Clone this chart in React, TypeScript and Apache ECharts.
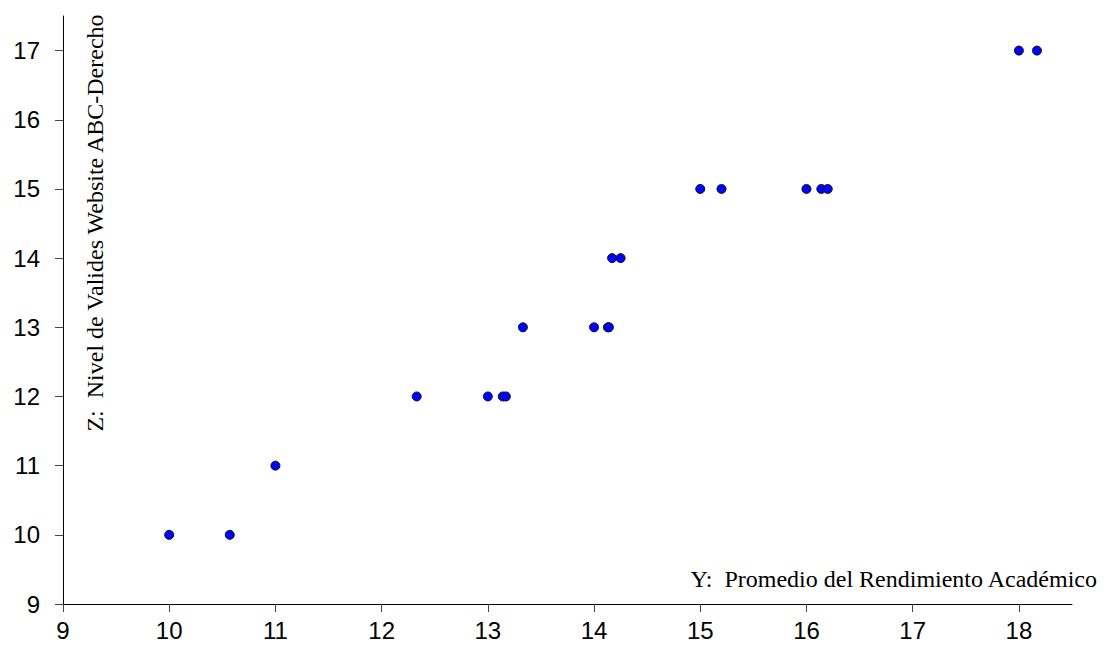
import React, { useEffect, useRef } from "react";
import * as echarts from "echarts";

const xValues = [10, 10.57, 11, 12.33, 13, 13.14, 13.17, 13.33, 14, 14.13, 14.14, 14.17, 14.25, 15, 15.2, 16, 16.14, 16.2, 18, 18.17];
const yValues = [10, 10, 11, 12, 12, 12, 12, 13, 13, 13, 13, 14, 14, 15, 15, 15, 15, 15, 17, 17];
const xTicks = [9, 10, 11, 12, 13, 14, 15, 16, 17, 18];
const yTicks = [9, 10, 11, 12, 13, 14, 15, 16, 17];
const xTitle = "Y:  Promedio del Rendimiento Académico";
const yTitle = "Z:  Nivel de Valides Website ABC-Derecho";

export default function App() {
  const ref = useRef<HTMLDivElement>(null);
  useEffect(() => {
    if (!ref.current) return;
    const chart = echarts.init(ref.current, null, { renderer: "svg" });
    const data = xValues.map((x, i) => [x, yValues[i]]);
    chart.setOption({
      animation: false,
      backgroundColor: "#ffffff",
      grid: { left: 63, top: 16, right: 39, bottom: 44, containLabel: false },
      xAxis: {
        type: "value",
        min: 9,
        max: 18.5,
        interval: 1,
        splitLine: { show: false },
        axisLine: { show: true, onZero: false, lineStyle: { color: "#000", width: 1 } },
        axisTick: { show: true, length: 8, customValues: xTicks, lineStyle: { color: "#444" } },
        axisLabel: {
          customValues: xTicks,
          margin: 14,
          color: "#000",
          fontFamily: "Liberation Sans, Arial, sans-serif",
          fontSize: 24,
        },
      },
      yAxis: {
        type: "value",
        min: 9,
        max: 17.5,
        interval: 1,
        splitLine: { show: false },
        axisLine: { show: true, onZero: false, lineStyle: { color: "#000", width: 1 } },
        axisTick: { show: true, length: 8, customValues: yTicks, lineStyle: { color: "#444" } },
        axisLabel: {
          customValues: yTicks,
          margin: 23,
          color: "#000",
          fontFamily: "Liberation Sans, Arial, sans-serif",
          fontSize: 24,
        },
      },
      graphic: [
        {
          type: "text",
          x: 1097,
          y: 579,
          style: {
            text: xTitle,
            align: "right",
            verticalAlign: "middle",
            fill: "#000",
            fontFamily: "Liberation Serif, Times New Roman, serif",
            fontSize: 24,
          },
        },
        {
          type: "text",
          x: 95,
          y: 223,
          rotation: Math.PI / 2,
          style: {
            text: yTitle,
            align: "center",
            verticalAlign: "middle",
            fill: "#000",
            fontFamily: "Liberation Serif, Times New Roman, serif",
            fontSize: 24,
          },
        },
      ],
      series: [
        {
          type: "scatter",
          data,
          symbol: "circle",
          symbolSize: 9,
          itemStyle: { color: "#0000ff", borderColor: "#111", borderWidth: 1, opacity: 1 },
        },
      ],
    });
    return () => chart.dispose();
  }, []);
  return <div ref={ref} style={{ width: 1111, height: 648, position: "absolute", left: 0, top: 0 }} />;
}
